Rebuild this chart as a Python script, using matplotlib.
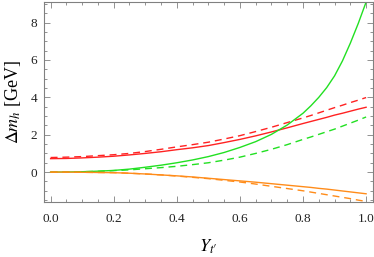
import matplotlib
matplotlib.use("Agg")
import matplotlib.pyplot as plt
from matplotlib.ticker import MultipleLocator

x = [0.0, 0.05, 0.1, 0.15, 0.2, 0.25, 0.3, 0.35, 0.4, 0.45, 0.5,
     0.55, 0.6, 0.65, 0.7, 0.75, 0.8, 0.825, 0.85, 0.875, 0.9, 0.925, 0.95, 0.975, 1.0]
red_solid = [0.72, 0.73, 0.76, 0.8, 0.85, 0.92, 1.0, 1.09, 1.2, 1.3, 1.42,
             1.58, 1.75, 1.94, 2.15, 2.37, 2.6, 2.71, 2.82, 2.93, 3.05, 3.15, 3.26, 3.37, 3.47]
red_dashed = [0.78, 0.8, 0.83, 0.88, 0.93, 1.0, 1.1, 1.22, 1.35, 1.47, 1.6,
              1.77, 1.95, 2.17, 2.4, 2.65, 2.9, 3.03, 3.17, 3.31, 3.45, 3.58, 3.72, 3.85, 3.99]
green_solid = [0.0, 0.005, 0.02, 0.05, 0.09, 0.16, 0.26, 0.37, 0.5, 0.65, 0.83,
               1.05, 1.32, 1.63, 2.02, 2.52, 3.15, 3.55, 4.0, 4.52, 5.15, 5.95, 6.9, 7.95, 9.1]
green_dashed = [0.0, 0.005, 0.02, 0.04, 0.08, 0.12, 0.18, 0.24, 0.31, 0.4, 0.5,
                0.64, 0.8, 1.0, 1.22, 1.47, 1.75, 1.88, 2.02, 2.16, 2.3, 2.46, 2.62, 2.78, 2.95]
orange_solid = [0.0, 0.0, -0.01, -0.02, -0.03, -0.06, -0.1, -0.15, -0.2, -0.26, -0.33,
                -0.4, -0.47, -0.54, -0.62, -0.7, -0.78, -0.82, -0.87, -0.91, -0.96, -1.01,
                -1.06, -1.11, -1.16]
orange_dashed = [0.0, 0.0, -0.01, -0.02, -0.03, -0.06, -0.1, -0.15, -0.21, -0.28, -0.35,
                 -0.44, -0.53, -0.64, -0.76, -0.88, -1.0, -1.07, -1.14, -1.21, -1.28, -1.35,
                 -1.42, -1.5, -1.57]
xticks = [0.0, 0.2, 0.4, 0.6, 0.8, 1.0]
yticks = [0, 2, 4, 6, 8]

plt.rcParams['font.family'] = ['Liberation Serif', 'DejaVu Serif']
plt.rcParams['mathtext.fontset'] = 'stix'

fig = plt.figure(figsize=(3.74, 2.57), dpi=100)
ax = fig.add_axes([0.1176, 0.214, 0.879, 0.778])

lw = 1.0
dash = (0, (5, 3.5))
red = '#ff2222'
green = '#22e022'
orange = '#ff8c1a'

ax.plot(x, red_solid, color=red, lw=lw)
ax.plot(x, red_dashed, color=red, lw=lw, linestyle=dash)
ax.plot(x, green_solid, color=green, lw=lw)
ax.plot(x, green_dashed, color=green, lw=lw, linestyle=dash)
ax.plot(x, orange_solid, color=orange, lw=lw)
ax.plot(x, orange_dashed, color=orange, lw=lw, linestyle=dash)

ax.set_xlim(-0.021, 1.021)
ax.set_ylim(-1.6, 9.1)
ax.set_xticks(xticks)
ax.set_xticklabels([f"{v:.1f}" for v in xticks])
ax.set_yticks(yticks)
ax.set_yticklabels([str(v) for v in yticks])
ax.xaxis.set_minor_locator(MultipleLocator(0.05))
ax.yaxis.set_minor_locator(MultipleLocator(0.5))

frame = '#808080'
for s in ax.spines.values():
    s.set_color(frame)
    s.set_linewidth(0.8)
ax.tick_params(which='both', direction='in', top=True, right=True, color=frame, width=0.6)
ax.tick_params(which='major', length=4, labelsize=9.5, labelcolor='#222222')
ax.tick_params(axis='x', which='major', pad=8)
ax.tick_params(axis='y', which='major', pad=5)
ax.tick_params(which='minor', length=2.2)

ax.set_xlabel("$Y_{t\u2032}$", fontsize=13, labelpad=9)
ax.set_ylabel(r"$\Delta m_h$ [GeV]", fontsize=13, labelpad=5)

fig.savefig("out.png", dpi=100)
